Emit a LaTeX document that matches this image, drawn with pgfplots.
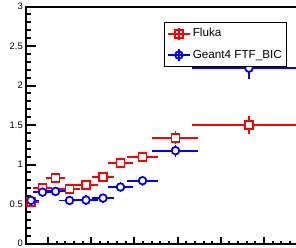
\documentclass[border=0pt]{standalone}
\usepackage{fontspec}
\setmainfont{Liberation Sans}
\usepackage{pgfplots}
\usepackage{pgfplotstable}
\pgfplotsset{compat=1.18}
\definecolor{rootred}{RGB}{255,0,0}
\definecolor{rootblue}{RGB}{0,0,255}

\pgfplotstableread{
x      ex     y      ey
0.606  0.116  0.53   0.02
0.873  0.150  0.70   0.02
1.174  0.150  0.83   0.02
1.498  0.174  0.69   0.02
1.880  0.208  0.74   0.02
2.273  0.185  0.845  0.02
2.678  0.220  1.02   0.025
3.188  0.289  1.09   0.025
3.951  0.463  1.34   0.04
5.653  1.250  1.50   0.07
}\fluka

\pgfplotstableread{
x      ex     y      ey
0.606  0.116  0.545  0.02
0.873  0.150  0.65   0.02
1.174  0.150  0.66   0.02
1.498  0.174  0.545  0.02
1.880  0.208  0.55   0.02
2.273  0.185  0.575  0.02
2.678  0.220  0.715  0.025
3.188  0.289  0.795  0.025
3.951  0.463  1.175  0.04
5.653  1.250  2.22   0.10
}\geant

\pgfplotsset{
  rootleg/.style={legend image code/.code={
    \draw[##1, mark=none] (0pt,0pt) -- (22pt,0pt);
    \draw[##1, mark=none] (11pt,-6pt) -- (11pt,6pt);
    \draw[##1, only marks] plot coordinates {(11pt,0pt)};
  }},
  errs/.style={forget plot, only marks, mark=none,
    error bars/.cd, x dir=both, x explicit, y dir=both, y explicit,
    error bar style={line width=1.8pt, #1},
    error mark options={line width=1.8pt, mark size=3pt, #1}},
}

\begin{document}
\begin{tikzpicture}
\begin{scope}
\clip (0pt,0pt) rectangle (296pt,247pt);
\begin{axis}[
  scale only axis,
  width=281.2pt, height=237pt,
  at={(26pt,3.5pt)}, anchor=south west,
  xmin=0.491, xmax=7.0, ymin=0, ymax=3,
  axis line style={line width=2pt, black},
  tick align=inside, tick pos=left,
  xtick={1,2,3,4,5,6,7}, xticklabel=\empty,
  minor x tick num=4,
  ytick={0,0.5,1,1.5,2,2.5,3},
  yticklabels={0,0.5,1,1.5,2,2.5,3},
  minor y tick num=4,
  major tick length=10pt, minor tick length=5pt,
  xtick style={line width=2pt, black, /pgfplots/major tick length=6.5pt, /pgfplots/minor tick length=3pt},
  minor x tick style={/pgfplots/minor tick length=3pt},
  ytick style={line width=2pt, black},
  yticklabel style={font=\fontsize{9.4}{10}\selectfont, inner sep=0pt, xshift=-3pt},
  legend style={at={(0.4908,0.9346)}, anchor=north west, draw=black, line width=1.2pt,
    fill=white, font=\fontsize{11.7}{13}\selectfont, inner xsep=2.4pt, inner ysep=3pt,
    row sep=5.5pt, cells={anchor=west},
    nodes={inner sep=2pt, text height=9pt, text depth=3pt}},
  legend cell align=left,
]
% error bars first, markers drawn on top
\addplot[errs=rootred] table[x=x, y=y, x error=ex, y error=ey] {\fluka};
\addplot[forget plot, only marks, line width=1.8pt, mark=square*, mark size=4pt,
  mark options={fill=white, draw=rootred, solid}]
  table[x=x, y=y] {\fluka};
\addplot[errs=rootblue] table[x=x, y=y, x error=ex, y error=ey] {\geant};
\addplot[forget plot, only marks, line width=1.8pt, mark=*, mark size=3.8pt,
  mark options={fill=white, draw=rootblue, solid}]
  table[x=x, y=y] {\geant};
\addlegendimage{rootleg, rootred, line width=1.8pt, mark=square, mark size=4pt, mark options={solid}}
\addlegendentry{Fluka}
\addlegendimage{rootleg, rootblue, line width=1.8pt, mark=o, mark size=3.8pt, mark options={solid}}
\addlegendentry{Geant4 FTF\_BIC}
\end{axis}
\end{scope}
\pgfresetboundingbox
\useasboundingbox (0pt,0pt) rectangle (296pt,247pt);
\end{tikzpicture}
\end{document}
